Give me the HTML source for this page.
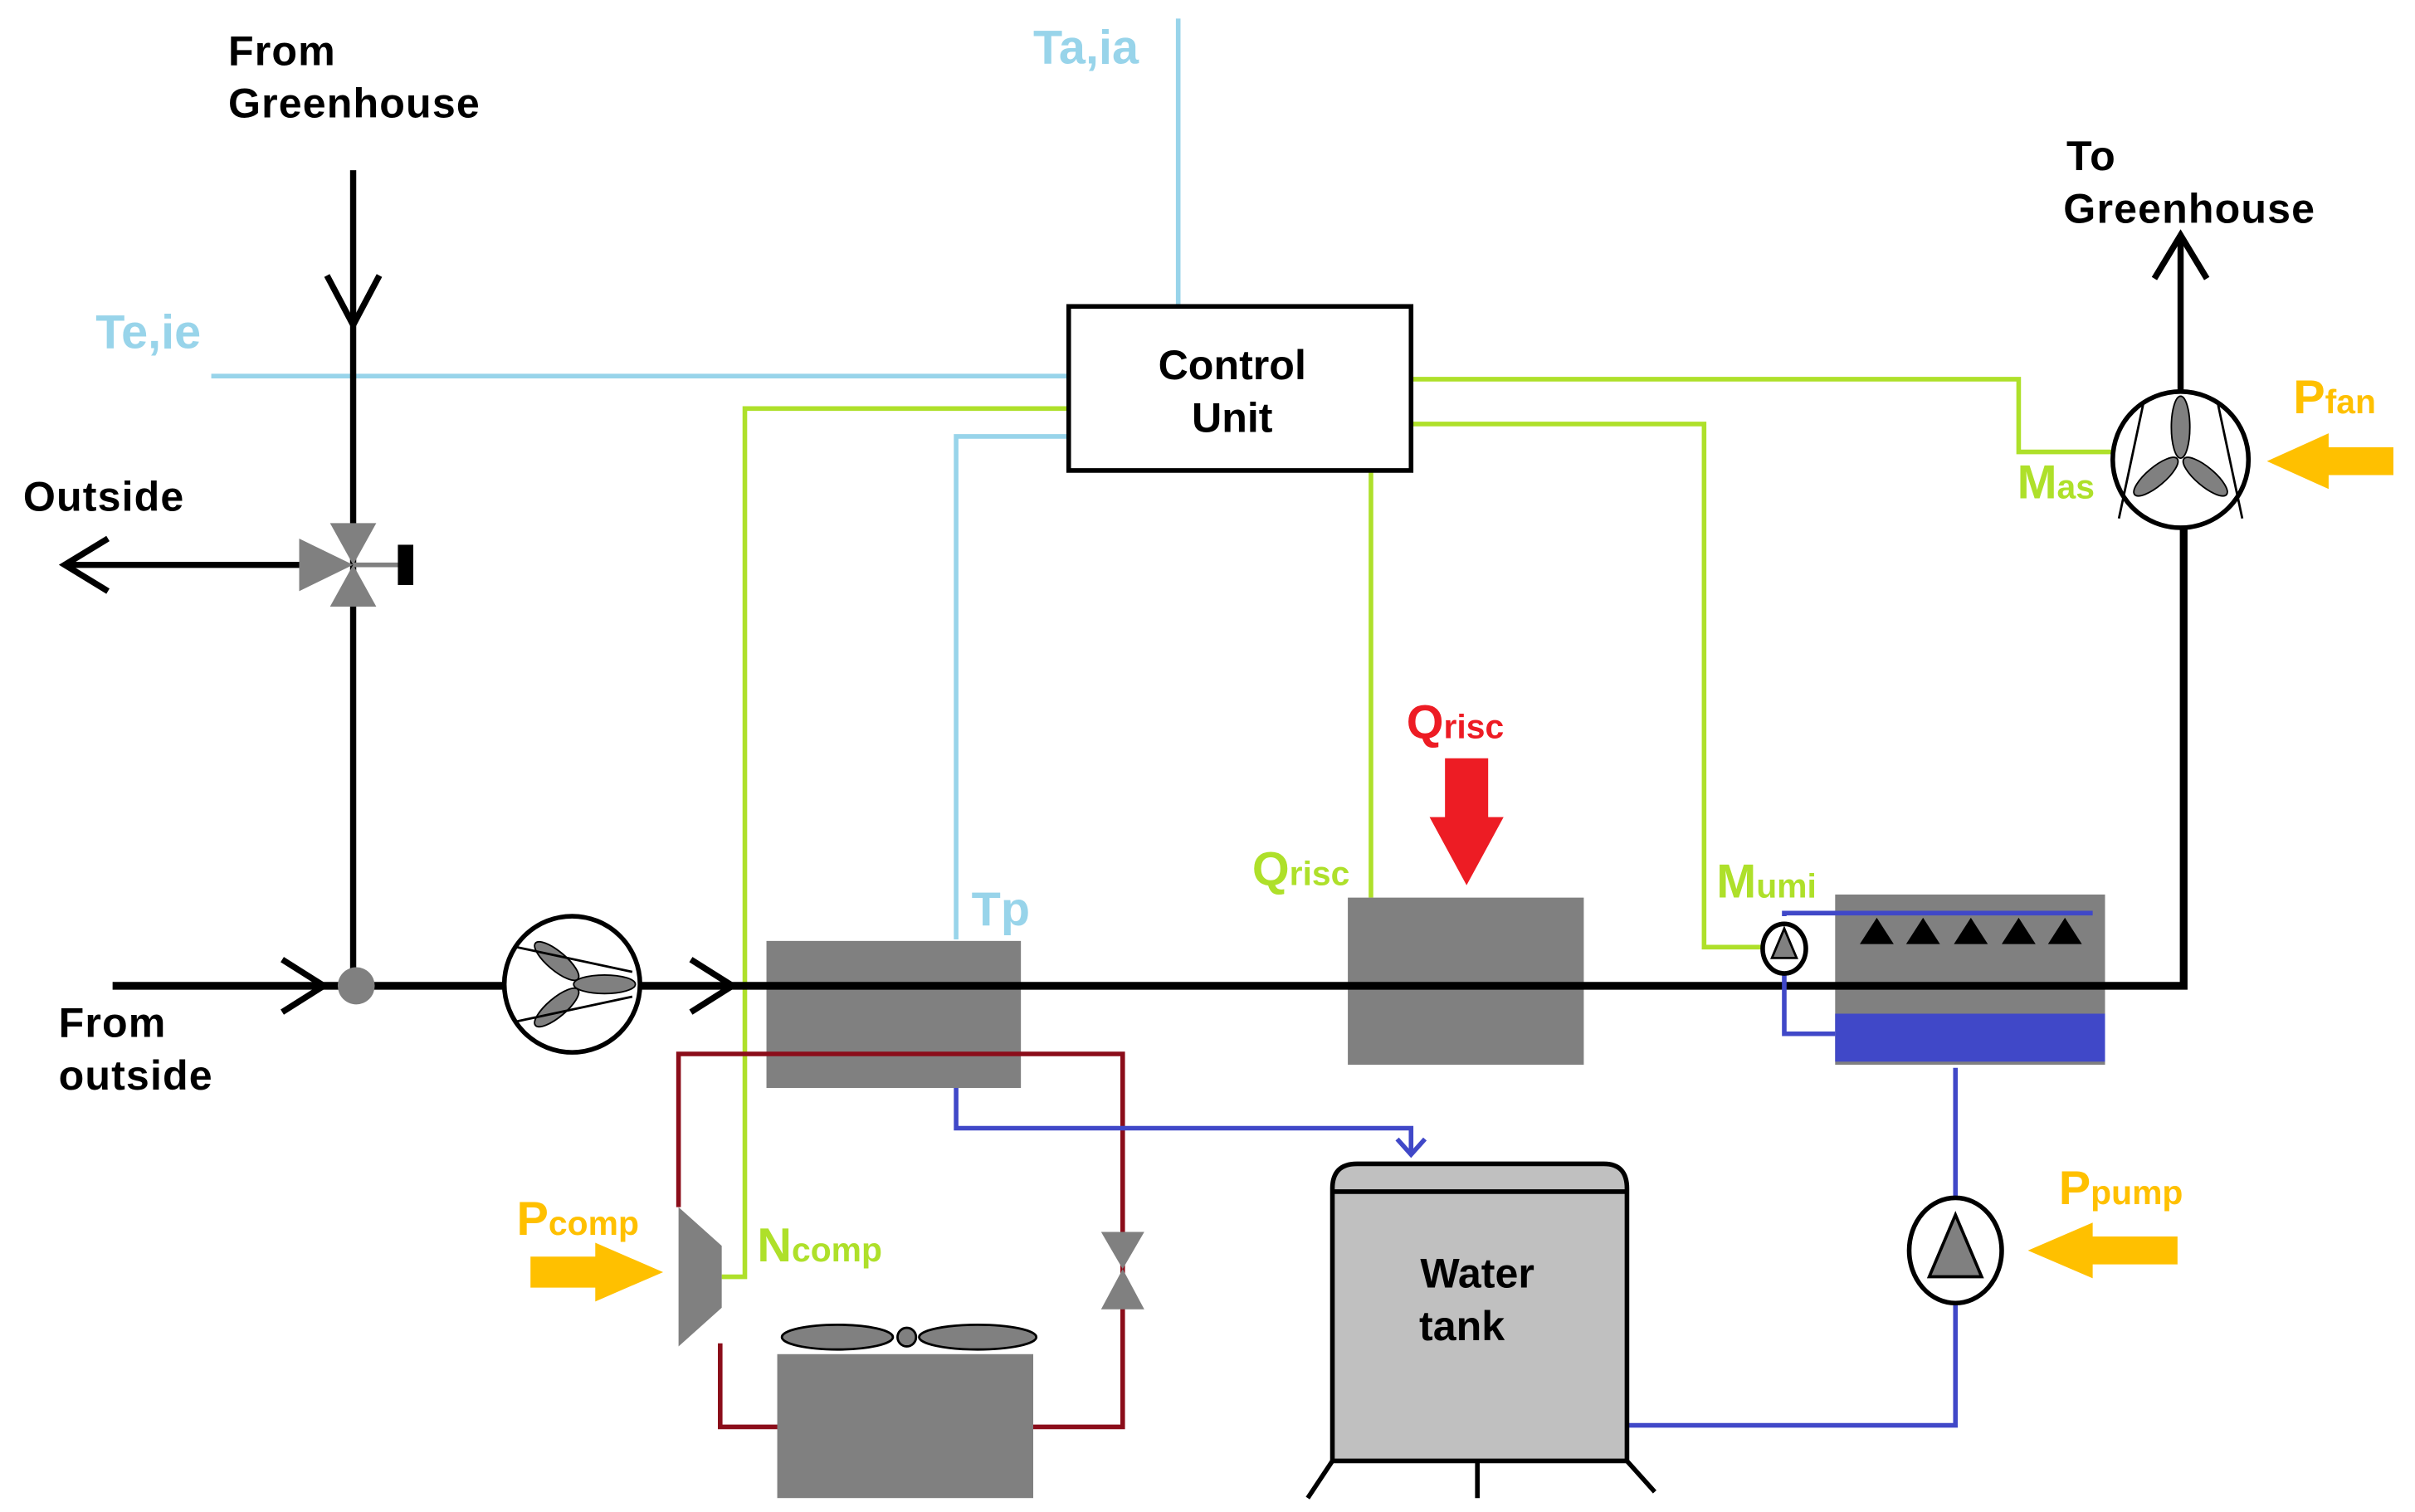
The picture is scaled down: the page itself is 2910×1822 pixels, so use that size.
<!DOCTYPE html>
<html><head><meta charset="utf-8"><style>
html,body{margin:0;padding:0;background:#fff;}
svg{display:block;}
text{font-family:"Liberation Sans",Arial,sans-serif;font-weight:bold;}
</style></head><body>
<svg width="2910" height="1822" viewBox="0 0 1566 977" preserveAspectRatio="none" xmlns="http://www.w3.org/2000/svg">
<rect width="1566" height="977" fill="#fff"/>
<g stroke="#98d4ea" stroke-width="3" fill="none">
<line x1="137" y1="243" x2="693" y2="243"/>
<line x1="764" y1="12" x2="764" y2="198"/>
<polyline points="693,282 620,282 620,607"/>
</g>
<g stroke="#aee02a" stroke-width="3" fill="none">
<polyline points="693,264 483,264 483,825 468,825"/>
<line x1="889" y1="304" x2="889" y2="580"/>
<polyline points="915,274 1105,274 1105,612 1143,612"/>
<polyline points="915,245 1309,245 1309,292 1370,292"/>
</g>
<rect x="693" y="198" width="222" height="106" fill="#fff" stroke="#000" stroke-width="3"/>
<text x="799" y="245" font-size="27" text-anchor="middle">Control</text>
<text x="799" y="279" font-size="27" text-anchor="middle">Unit</text>
<rect x="497" y="608" width="165" height="95" fill="#808080"/>
<rect x="874" y="580" width="153" height="108" fill="#808080"/>
<rect x="1190" y="578" width="175" height="110" fill="#808080"/>
<rect x="1190" y="655" width="175" height="31" fill="#4048c8"/>
<g stroke="#000" fill="none" stroke-width="4">
<polyline points="73,637 1416,637 1416,341" stroke-width="5"/>
<line x1="229" y1="110" x2="229" y2="637"/>
<polyline points="212,178 229,210 246,178"/>
<line x1="42" y1="365" x2="200" y2="365"/>
<polyline points="70,348 42,365 70,382"/>
<polyline points="183,620 210,637 183,654"/>
<polyline points="448,620 475,637 448,654"/>
<line x1="1414" y1="253" x2="1414" y2="155"/>
<polyline points="1397,180 1414,152 1431,180"/>
</g>
<polygon points="214,338 244,338 229,365" fill="#808080"/>
<polygon points="214,392 244,392 229,365" fill="#808080"/>
<polygon points="194,348 194,382 229,365" fill="#808080"/>
<line x1="229" y1="365" x2="260" y2="365" stroke="#808080" stroke-width="3"/>
<rect x="258" y="352" width="10" height="26" fill="#000"/>
<circle cx="231" cy="637" r="12" fill="#808080"/>
<circle cx="371" cy="636" r="44" fill="#fff" stroke="#000" stroke-width="3"/>
<g fill="#808080" stroke="#000" stroke-width="1">
<ellipse cx="392" cy="636" rx="20" ry="6"/>
<ellipse cx="361" cy="621" rx="18" ry="6" transform="rotate(40 361 621)"/>
<ellipse cx="361" cy="651" rx="18" ry="6" transform="rotate(-40 361 651)"/>
</g>
<line x1="335" y1="612" x2="410" y2="628" stroke="#000" stroke-width="1.5"/>
<line x1="335" y1="660" x2="410" y2="644" stroke="#000" stroke-width="1.5"/>
<circle cx="1414" cy="297" r="44" fill="#fff" stroke="#000" stroke-width="3"/>
<g fill="#808080" stroke="#000" stroke-width="1">
<ellipse cx="1414" cy="276" rx="6" ry="20"/>
<ellipse cx="1398" cy="308" rx="6" ry="18" transform="rotate(50 1398 308)"/>
<ellipse cx="1430" cy="308" rx="6" ry="18" transform="rotate(-50 1430 308)"/>
</g>
<line x1="1390" y1="260" x2="1374" y2="335" stroke="#000" stroke-width="1.5"/>
<line x1="1438" y1="260" x2="1454" y2="335" stroke="#000" stroke-width="1.5"/>
<g stroke="#8b0d1a" stroke-width="3" fill="none">
<polyline points="440,780 440,681 728,681 728,922 467,922 467,868"/>
</g>
<polygon points="440,780 468,805 468,845 440,870" fill="#808080"/>
<polygon points="714,796 742,796 728,820" fill="#808080"/>
<polygon points="714,846 742,846 728,820" fill="#808080"/>
<rect x="504" y="875" width="166" height="93" fill="#808080"/>
<g fill="#808080" stroke="#000" stroke-width="1.5">
<ellipse cx="543" cy="864" rx="36" ry="8"/>
<ellipse cx="634" cy="864" rx="38" ry="8"/>
<circle cx="588" cy="864" r="6"/>
</g>
<g stroke="#4048c8" stroke-width="3" fill="none">
<polyline points="620,703 620,729 915,729 915,746"/>
<polyline points="906,736 915,746 924,736"/>
<polyline points="1157,592 1157,590 1357,590"/>
<polyline points="1157,628 1157,668 1190,668"/>
<line x1="1268" y1="690" x2="1268" y2="778"/>
<polyline points="1268,840 1268,921 1055,921"/>
</g>
<ellipse cx="1157" cy="613" rx="14" ry="16" fill="#fff" stroke="#000" stroke-width="3"/>
<polygon points="1157,600 1149,619 1165,619" fill="#808080" stroke="#000" stroke-width="1.5"/>
<g fill="#000">
<polygon points="1206,610 1217,593 1228,610"/>
<polygon points="1236,610 1247,593 1258,610"/>
<polygon points="1267,610 1278,593 1289,610"/>
<polygon points="1298,610 1309,593 1320,610"/>
<polygon points="1328,610 1339,593 1350,610"/>
</g>
<ellipse cx="1268" cy="808" rx="30" ry="34" fill="#fff" stroke="#000" stroke-width="3"/>
<polygon points="1268,785 1251,825 1285,825" fill="#808080" stroke="#000" stroke-width="2"/>
<path d="M864,944 L864,768 Q864,752 880,752 L1040,752 Q1055,752 1055,768 L1055,944 Z" fill="#c0c0c0" stroke="#000" stroke-width="3"/>
<line x1="864" y1="770" x2="1055" y2="770" stroke="#000" stroke-width="3"/>
<g stroke="#000" stroke-width="3">
<line x1="864" y1="944" x2="848" y2="968"/>
<line x1="958" y1="944" x2="958" y2="968"/>
<line x1="1055" y1="944" x2="1073" y2="964"/>
</g>
<text x="958" y="832" font-size="27" text-anchor="middle">Water</text>
<text x="948" y="866" font-size="27" text-anchor="middle">tank</text>
<polygon points="937,490 965,490 965,528 975,528 951,572 927,528 937,528" fill="#ed1c24"/>
<g fill="#ffc000">
<polygon points="1552,289 1510,289 1510,280 1470,298 1510,316 1510,307 1552,307"/>
<polygon points="1412,799 1357,799 1357,790 1315,808 1357,826 1357,817 1412,817"/>
<polygon points="344,812 386,812 386,803 430,822 386,841 386,832 344,832"/>
</g>
<g font-size="27" letter-spacing="0.6">
<text x="148" y="42">From</text>
<text x="148" y="76">Greenhouse</text>
<text x="15" y="330">Outside</text>
<text x="38" y="670">From</text>
<text x="38" y="704">outside</text>
<text x="1340" y="110">To</text>
<text x="1338" y="144">Greenhouse</text>
</g>
<g fill="#98d4ea">
<text x="62" y="225" font-size="31">Te,ie</text>
<text x="670" y="41" font-size="31">Ta,ia</text>
<text x="630" y="598" font-size="31">Tp</text>
</g>
<g fill="#aee02a">
<text x="812" y="572" font-size="31">Q<tspan font-size="22">risc</tspan></text>
<text x="1113" y="580" font-size="31">M<tspan font-size="22">umi</tspan></text>
<text x="1308" y="322" font-size="31">M<tspan font-size="22">as</tspan></text>
<text x="491" y="815" font-size="31">N<tspan font-size="22">comp</tspan></text>
</g>
<text x="912" y="477" font-size="31" fill="#ed1c24">Q<tspan font-size="22">risc</tspan></text>
<g fill="#ffc000">
<text x="1487" y="267" font-size="31">P<tspan font-size="22">fan</tspan></text>
<text x="1335" y="778" font-size="31">P<tspan font-size="22">pump</tspan></text>
<text x="335" y="798" font-size="31">P<tspan font-size="22">comp</tspan></text>
</g>
</svg>
</body></html>
